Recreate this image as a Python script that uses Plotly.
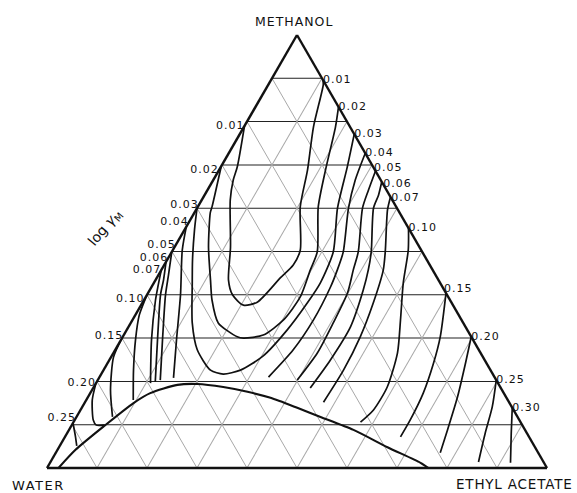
import plotly.graph_objects as go

# Ternary system methanol (a) / water (b) / ethyl acetate (c), compositions in percent.
# Each curve is a list of (methanol %, ethyl acetate %); water is the balance.

# Closed-loop iso-lines of log gamma_M running from the water side to the ester side
curve_001 = [(79.0, 0.0), (69.5, 3.3), (66.5, 4.0), (61.9, 5.7), (51.0, 11.2), (43.4, 14.6),
             (40.0, 17.1), (37.6, 20.5), (38.3, 22.9), (43.9, 24.7), (46.9, 25.8), (50.3, 25.5),
             (60.3, 20.5), (68.8, 17.7), (78.8, 13.9), (88.5, 11.0), (89.6, 10.4)]
curve_002 = [(69.7, 0.0), (60.3, 2.85), (58.9, 3.2), (51.0, 6.8), (43.4, 11.0), (38.8, 13.6),
             (33.5, 17.5), (30.3, 22.9), (30.0, 24.3), (30.7, 27.9), (34.2, 30.2), (39.5, 30.9),
             (45.7, 29.8), (49.9, 29.1), (60.3, 24.1), (68.8, 21.3), (78.8, 18.3), (83.4, 16.6)]
curve_003 = [(60.0, 0.0), (55.0, 2.0), (48.0, 5.1), (42.7, 7.7), (33.5, 12.3), (27.3, 16.4),
             (22.6, 21.4), (21.7, 24.4), (22.6, 27.4), (25.9, 30.3), (31.9, 32.1), (38.1, 33.0),
             (42.7, 33.3), (49.9, 32.3), (60.0, 28.1), (69.5, 25.3), (77.1, 22.9)]

# Branches starting on the methanol-water side
west_004 = [(55.7, 0.0), (50.3, 1.9), (40.0, 6.7), (29.6, 11.1), (20.8, 14.9)]
west_005 = [(49.9, 0.0), (44.6, 2.0), (40.0, 3.7), (29.6, 8.3), (20.3, 12.5)]
west_006 = [(47.6, 0.0), (43.4, 1.6), (40.0, 2.7), (29.6, 7.3), (19.9, 11.7)]
west_007 = [(45.7, 0.0), (42.3, 1.1), (38.8, 2.3), (29.6, 6.1), (19.6, 10.9)]
west_010 = [(40.0, 0.0), (35.3, 0.8), (29.6, 2.9), (22.6, 6.0), (15.7, 9.4)]
west_015 = [(30.0, 0.0), (25.6, 0.5), (18.0, 3.7), (11.8, 7.2)]
west_020 = [(19.6, 0.0), (15.7, 1.2), (11.1, 3.7), (9.9, 4.9), (9.9, 6.5)]
west_025 = [(10.4, 0.0), (7.2, 2.1), (5.1, 3.4)]

# Branches starting on the methanol-ethyl acetate side
east_004 = [(72.7, 27.3), (66.5, 28.4), (60.0, 30.3), (49.9, 34.3), (45.7, 35.2), (41.8, 35.8),
            (34.2, 36.2), (27.3, 35.6), (21.0, 33.8)]
east_005 = [(68.6, 31.4), (64.2, 32.2), (60.0, 33.1), (49.9, 37.3), (45.7, 38.4), (40.4, 39.9),
            (33.5, 40.5), (26.6, 40.8), (20.3, 39.9)]
east_006 = [(66.1, 33.9), (63.0, 34.8), (60.0, 35.3), (49.9, 39.9), (45.7, 41.4), (41.1, 42.7),
            (32.6, 44.4), (24.9, 44.2), (18.5, 43.4)]
east_007 = [(62.6, 37.4), (59.6, 38.3), (49.9, 42.7), (45.7, 44.4), (38.1, 46.2), (30.3, 47.5),
            (22.6, 48.0), (15.2, 47.7)]
east_010 = [(55.4, 44.6), (50.3, 47.1), (42.7, 49.9), (34.2, 53.6), (26.6, 56.8), (18.7, 58.7),
            (13.4, 58.6), (10.6, 57.4)]
east_015 = [(40.4, 59.6), (30.3, 63.5), (24.2, 65.2), (17.3, 66.6), (11.1, 67.1), (7.2, 67.1)]
east_020 = [(30.3, 69.7), (24.2, 71.6), (16.4, 73.9), (8.8, 75.7), (3.5, 76.9)]
east_025 = [(20.3, 79.7), (14.1, 82.0), (8.1, 83.6), (1.4, 85.6)]
east_030 = [(13.9, 86.1), (8.1, 88.8), (1.2, 92.1)]

# Binodal (two-liquid-phase boundary)
binodal = [(0.0, 2.3), (4.2, 3.6), (9.9, 6.7), (15.0, 9.8), (17.3, 12.0), (19.2, 16.5),
           (19.4, 20.4), (18.7, 25.9), (17.6, 31.3), (16.2, 36.6), (13.9, 43.1), (11.8, 48.8),
           (8.8, 56.9), (4.8, 65.7), (1.2, 74.1), (0.0, 76.3)]

# Level labels at the point where each line meets a binary side
west_labels = ["0.01", "0.02", "0.03", "0.04", "0.05", "0.06", "0.07", "0.10", "0.15", "0.20", "0.25"]
west_ends = [curve_001[0], curve_002[0], curve_003[0], west_004[0], west_005[0], west_006[0],
             west_007[0], west_010[0], west_015[0], west_020[0], west_025[0]]
# small shift along the side (in % methanol) so crowded labels stay apart
west_lift = [0.0, -1.0, 0.7, 1.0, 1.6, 0.9, 0.0, -1.0, 0.5, 0.0, 1.2]

east_labels = ["0.01", "0.02", "0.03", "0.04", "0.05", "0.06", "0.07", "0.10", "0.15", "0.20", "0.25", "0.30"]
east_ends = [curve_001[-1], curve_002[-1], curve_003[-1], east_004[0], east_005[0], east_006[0],
             east_007[0], east_010[0], east_015[0], east_020[0], east_025[0], east_030[0]]
east_lift = [0.0, 0.0, 0.0, 0.0, 0.6, -0.6, -0.3, 0.0, 0.8, 0.0, 0.0, 0.0]

INK = "#111111"
FONT = "DejaVu Sans"


def spaced(text, px):
    return '<span style="letter-spacing:%spx">%s</span>' % (px, text)


def water_of(a, c):
    return max(0.0, round(100.0 - a - c, 6))


fig = go.Figure()


def add_curve(points, width=1.7):
    meoh = [p[0] for p in points]
    etac = [p[1] for p in points]
    water = [water_of(m, e) for m, e in points]
    fig.add_trace(go.Scatterternary(
        a=meoh, b=water, c=etac, mode="lines",
        line=dict(color=INK, width=width, shape="spline", smoothing=0.7),
        hoverinfo="skip", showlegend=False))


for curve in [curve_001, curve_002, curve_003,
              west_004, west_005, west_006, west_007, west_010, west_015, west_020, west_025,
              east_004, east_005, east_006, east_007, east_010, east_015, east_020, east_025,
              east_030]:
    add_curve(curve)
add_curve(binodal, width=2.1)

# west-side labels (ethyl acetate = 0 along that side)
west_a = [p[0] + d for p, d in zip(west_ends, west_lift)]
fig.add_trace(go.Scatterternary(
    a=west_a, b=[water_of(a, 0.0) for a in west_a], c=[0.0] * len(west_a),
    mode="text", text=[spaced(t, 1) for t in west_labels], textposition="middle left",
    textfont=dict(family=FONT, size=11, color=INK),
    cliponaxis=False, hoverinfo="skip", showlegend=False))

# east-side labels (water = 0 along that side)
east_a = [p[0] + d for p, d in zip(east_ends, east_lift)]
east_c = [p[1] - d for p, d in zip(east_ends, east_lift)]
fig.add_trace(go.Scatterternary(
    a=east_a, b=[water_of(a, c) for a, c in zip(east_a, east_c)], c=east_c,
    mode="text", text=[spaced(t, 1) for t in east_labels], textposition="middle right",
    textfont=dict(family=FONT, size=11, color=INK),
    cliponaxis=False, hoverinfo="skip", showlegend=False))

dark_grid = dict(gridcolor="#222222", gridwidth=1.1)
light_grid = dict(gridcolor="#a8a8a8", gridwidth=0.6)
common = dict(showticklabels=False, ticks="", tick0=0, dtick=10, showgrid=True,
              linecolor=INK, linewidth=2.4, title=dict(text=""), min=0)

fig.update_layout(
    width=577, height=493,
    margin=dict(l=47, r=30, t=35, b=25),
    paper_bgcolor="white",
    ternary=dict(
        sum=100, bgcolor="white",
        domain=dict(x=[0, 1], y=[0, 1]),
        aaxis=dict(**common, **dark_grid),
        baxis=dict(**common, **light_grid),
        caxis=dict(**common, **light_grid),
    ),
    annotations=[
        dict(text=spaced("METHANOL", 1), x=0.494, y=1.032, xref="paper", yref="paper",
             xanchor="center", yanchor="middle", showarrow=False,
             font=dict(family=FONT, size=12.5, color=INK)),
        dict(text=spaced("WATER", 1.5), x=-0.074, y=-0.04, xref="paper", yref="paper",
             xanchor="left", yanchor="middle", showarrow=False,
             font=dict(family=FONT, size=13, color=INK)),
        dict(text=spaced("ETHYL ACETATE", 0.8), x=0.814, y=-0.037, xref="paper", yref="paper",
             xanchor="left", yanchor="middle", showarrow=False,
             font=dict(family=FONT, size=13.5, color=INK)),
        dict(text="log <i>γ</i><sub>M</sub>", x=0.116, y=0.554, xref="paper", yref="paper",
             xanchor="center", yanchor="middle", showarrow=False, textangle=-50,
             font=dict(family=FONT, size=14, color=INK)),
    ],
)

fig.write_html("out.html")
